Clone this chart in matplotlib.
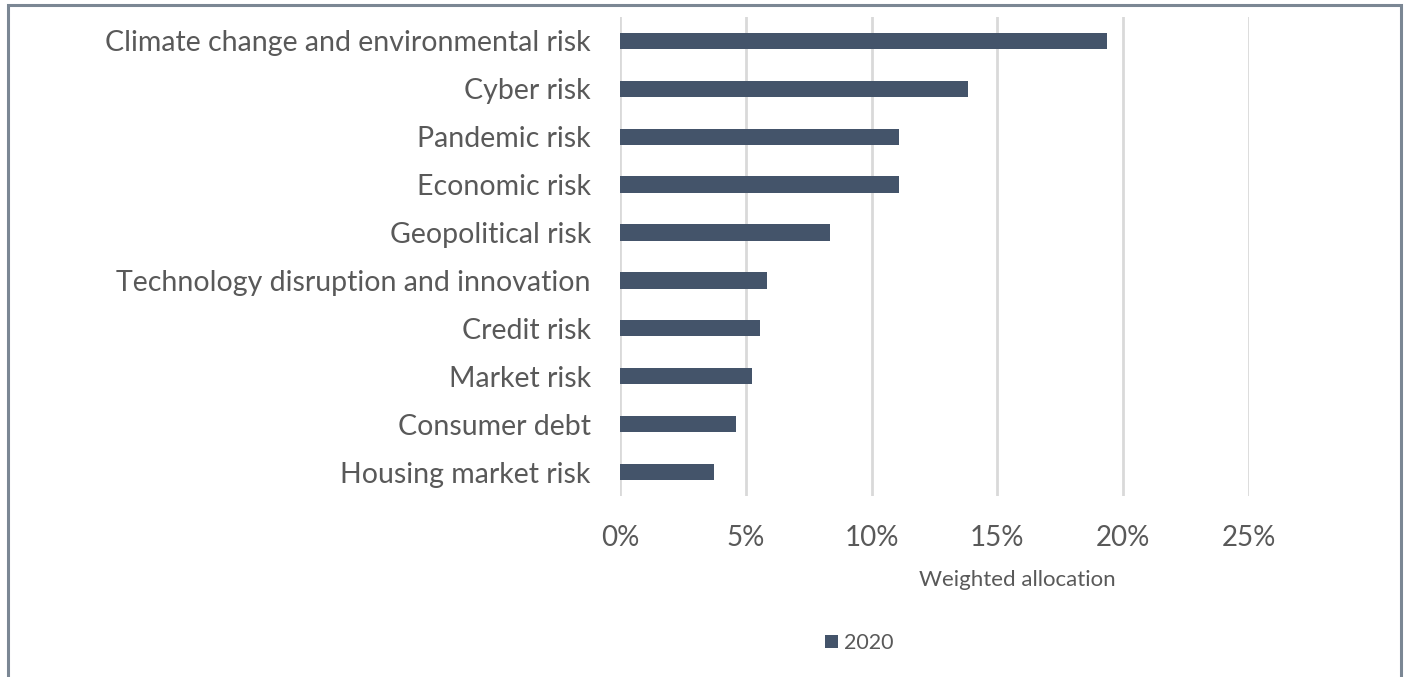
import matplotlib
matplotlib.use("Agg")
import matplotlib.pyplot as plt
from matplotlib.patches import Rectangle
from matplotlib.ticker import PercentFormatter

categories = [
    "Climate change and environmental risk",
    "Cyber risk",
    "Pandemic risk",
    "Economic risk",
    "Geopolitical risk",
    "Technology disruption and innovation",
    "Credit risk",
    "Market risk",
    "Consumer debt",
    "Housing market risk",
]
values_2020 = [19.35, 13.85, 11.1, 11.1, 8.35, 5.86, 5.57, 5.24, 4.63, 3.72]
x_ticks = [0, 5, 10, 15, 20, 25]
series_name = "2020"

bar_color = "#44546a"
text_color = "#595959"
plt.rcParams["font.family"] = ["Lato", "DejaVu Sans"]

fig = plt.figure(figsize=(14.04, 6.77), dpi=100)
ax = fig.add_axes([0.4416, 0.2674, 0.448, 0.7075])

pos = list(range(len(categories)))
ax.barh(pos, values_2020, height=0.34, color=bar_color, label=series_name, zorder=3)
ax.set_ylim(len(categories) - 0.5, -0.5)
ax.set_yticks(pos)
ax.set_yticklabels(categories, fontsize=20.5, color=text_color)

ax.set_xlim(0, 25)
ax.set_xticks(x_ticks)
ax.xaxis.set_major_formatter(PercentFormatter(decimals=0))
ax.tick_params(axis="x", labelsize=20, labelcolor=text_color, length=0, pad=21)
ax.tick_params(axis="y", length=0, pad=21)
ax.grid(axis="x", color="#d9d9d9", linewidth=2, zorder=0)
for s in ax.spines.values():
    s.set_visible(False)

ax.set_xlabel("Weighted allocation", fontsize=16, color=text_color)
ax.xaxis.set_label_coords(0.631, -0.155)

fig.legend(loc="center", bbox_to_anchor=(0.612, 0.05), frameon=False, fontsize=15.5,
           handlelength=0.6, handleheight=0.6, handletextpad=0.25, labelcolor=text_color)

# outer frame of the chart, bottom edge runs off the image
fig.patches.append(Rectangle((8 / 1404, -0.05), 1393 / 1404, 1.05 - 5 / 677,
                             transform=fig.transFigure, fill=False,
                             edgecolor="#7b8794", linewidth=2.2))

fig.savefig("out.png", dpi=100)
